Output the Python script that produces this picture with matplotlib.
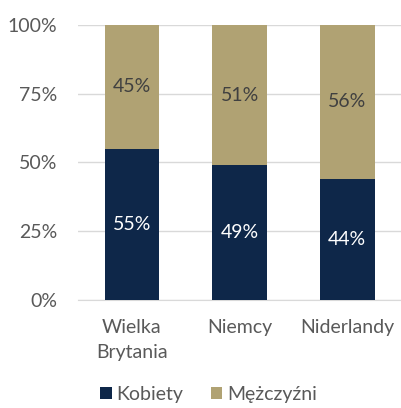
import numpy as np
import matplotlib.pyplot as plt
from matplotlib.ticker import PercentFormatter

categories = ['Wielka\nBrytania', 'Niemcy', 'Niderlandy']
kobiety = [55, 49, 44]
mezczyzni = [45, 51, 56]
series_names = ['Kobiety', 'Mężczyźni']

navy = '#0e2749'
khaki = '#b0a273'
grey = '#595959'

plt.rcParams['font.family'] = ['Lato', 'DejaVu Sans']

fig = plt.figure(figsize=(4.01, 4.08), dpi=100)
ax = fig.add_axes([0.195, 0.265, 0.805, 0.674])

x = np.arange(len(categories))
w = 0.51
b1 = ax.bar(x, kobiety, w, color=navy, label=series_names[0], zorder=3)
b2 = ax.bar(x, mezczyzni, w, bottom=kobiety, color=khaki, label=series_names[1], zorder=3)

for rect, v in zip(b1, kobiety):
    ax.text(rect.get_x() + rect.get_width() / 2, v / 2, f'{v}%', ha='center', va='center',
            color='white', fontsize=14, zorder=4)
for rect, k, v in zip(b2, kobiety, mezczyzni):
    ax.text(rect.get_x() + rect.get_width() / 2, k + v / 2, f'{v}%', ha='center', va='center',
            color='#404040', fontsize=14, zorder=4)

ax.set_xlim(-0.5, 2.5)
ax.set_ylim(0, 100)
ax.set_yticks([0, 25, 50, 75, 100])
ax.yaxis.set_major_formatter(PercentFormatter(decimals=0))
ax.set_xticks(x)
ax.set_xticklabels(categories, linespacing=1.55)
ax.grid(axis='y', color='#d9d9d9', linewidth=1, zorder=0)
for s in ['top', 'right', 'left']:
    ax.spines[s].set_visible(False)
ax.spines['bottom'].set_color('#d9d9d9')
ax.tick_params(axis='both', length=0, labelsize=14, labelcolor=grey)
ax.tick_params(axis='x', pad=14)
ax.tick_params(axis='y', pad=15)

fig.legend(handles=[b1, b2], loc='lower center', bbox_to_anchor=(0.52, -0.03), ncol=2,
           frameon=False, fontsize=14, labelcolor=grey, handlelength=0.6, handleheight=0.6,
           handletextpad=0.25, columnspacing=1.4)

fig.savefig('out.png', dpi=100)
